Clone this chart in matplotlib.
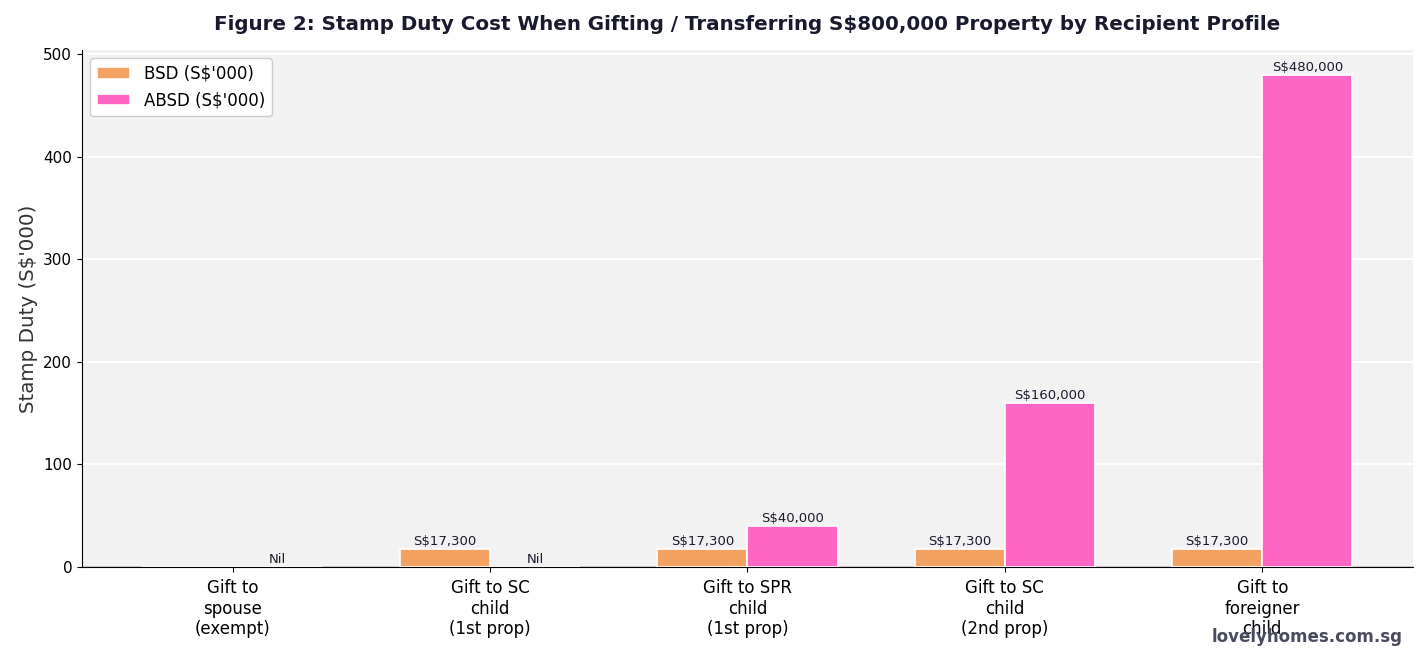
import numpy as np
import matplotlib.pyplot as plt

categories = ["Gift to\nspouse\n(exempt)", "Gift to SC\nchild\n(1st prop)",
              "Gift to SPR\nchild\n(1st prop)", "Gift to SC\nchild\n(2nd prop)",
              "Gift to\nforeigner\nchild"]
bsd = [0, 17.3, 17.3, 17.3, 17.3]
absd = [0, 0, 40, 160, 480]

DARK = '#1a1a2e'


def main():
    fig, ax = plt.subplots(figsize=(14.25, 6.57), dpi=100)
    fig.subplots_adjust(left=0.0575, right=0.9915, top=0.924, bottom=0.137)
    ax.set_facecolor('#f2f2f2')

    x = np.arange(len(categories))
    w = 0.35
    ax.axhline(0, color=DARK, lw=1.0, zorder=1)
    b1 = ax.bar(x - w / 2, bsd, w, color='#f4a261', edgecolor='white', lw=1.2,
                label="BSD (S$'000)", zorder=3)
    b2 = ax.bar(x + w / 2, absd, w, color='#ff66c4', edgecolor='white', lw=1.2,
                label="ABSD (S$'000)", zorder=3)

    for bars, vals in ((b1, bsd), (b2, absd)):
        for r, v in zip(bars, vals):
            cx = r.get_x() + r.get_width() / 2
            if v > 0:
                ax.text(cx, v + 1.0, f"S${v * 1000:,.0f}", ha='center', va='bottom',
                        fontsize=9.5, color=DARK, zorder=4)
            elif bars is b2:
                ax.text(cx, 0.5, "Nil", ha='center', va='bottom',
                        fontsize=9.5, color=DARK, zorder=4)

    ax.set_ylim(0, max(absd) * 1.05)
    ax.set_xticks(x)
    ax.set_xticklabels(categories, fontsize=12)
    ax.tick_params(axis='x', pad=5)
    ax.tick_params(axis='y', labelsize=11)
    ax.set_ylabel("Stamp Duty (S$'000)", fontsize=14.3, color='#333333')
    ax.yaxis.grid(True, color='white', lw=1.5, zorder=0)
    ax.set_axisbelow(True)
    for s in ('top', 'right'):
        ax.spines[s].set_visible(False)
    ax.set_title("Figure 2: Stamp Duty Cost When Gifting / Transferring S$800,000 Property by Recipient Profile",
                 fontsize=14.3, fontweight='bold', color=DARK, pad=14)
    ax.legend(loc='upper left', fontsize=12, facecolor='white', framealpha=1)
    fig.text(0.984, 0.031, "lovelyhomes.com.sg", ha='right', va='center',
             fontsize=12, fontweight='bold', color='#4a4a5e')
    fig.savefig('out.png')


if __name__ == '__main__':
    main()
